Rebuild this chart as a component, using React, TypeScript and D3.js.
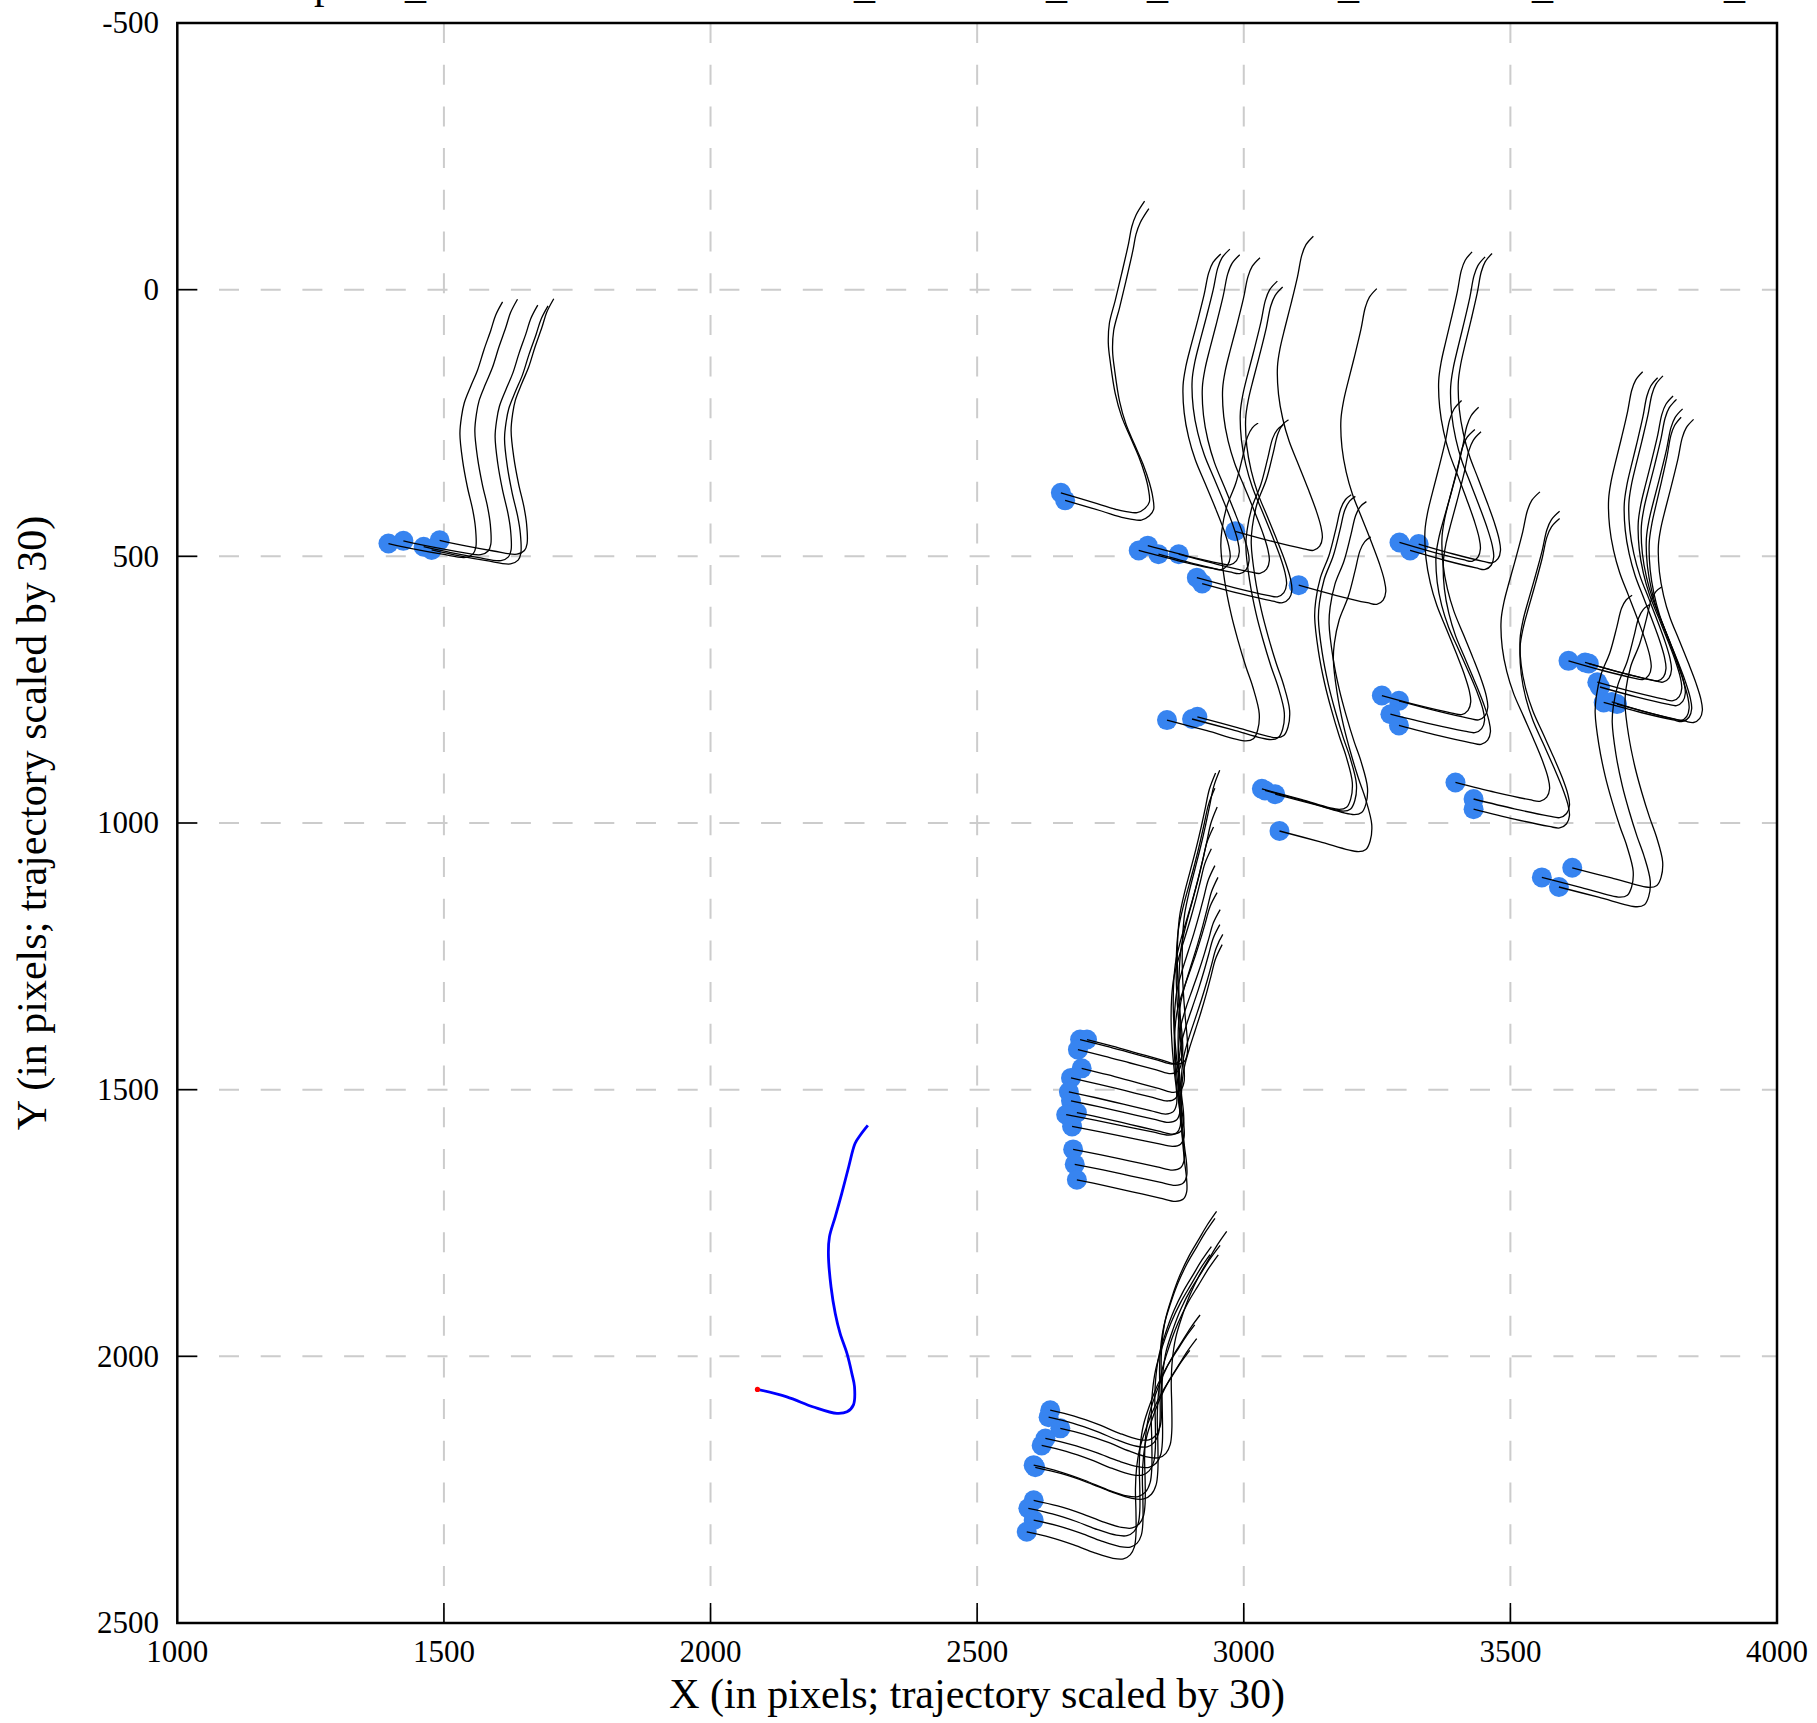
import React from 'react';
import * as d3 from 'd3';

const W = 1817;
const H = 1723;
const PLOT = { left: 177.3, right: 1777, top: 23, bottom: 1623 };

const xDomain: [number, number] = [1000, 4000];
const yDomain: [number, number] = [-500, 2500];
const xTickValues = [1000, 1500, 2000, 2500, 3000, 3500, 4000];
const yTickValues = [-500, 0, 500, 1000, 1500, 2000, 2500];
const xGridValues = [1500, 2000, 2500, 3000, 3500];
const yGridValues = [0, 500, 1000, 1500, 2000];

const xLabel = 'X (in pixels; trajectory scaled by 30)';
const yLabel = 'Y (in pixels; trajectory scaled by 30)';

// title line sits mostly above the page; only its descenders are visible
const titleParts: { text: string; endX: number }[] = [
  { text: 'Model: preds_', endX: 426 },
  { text: 'eth hotel scene1040_', endX: 875 },
  { text: 'obs08_', endX: 1067 },
  { text: 'len_', endX: 1168 },
  { text: 'model12_', endX: 1359 },
  { text: 'batch01_', endX: 1553 },
  { text: 'ttc30_', endX: 1745 },
];

// trajectory shapes: offsets (data units) from the observed position
const shapeBlue: [number, number][] = [
  [0, 0], [55, 14], [105, 33], [149, 45], [168, 42], [180, 29], [182, -5], [177, -30],
  [168, -67], [155, -105], [146, -142], [138, -192], [133, -255], [135, -286], [146, -324],
  [158, -367], [171, -417], [183, -461], [193, -477], [207, -495],
];
const shapeA: [number, number][] = [
  [0, 0], [51, 11], [101, 20], [145, 26], [159, 19], [164, 6], [163, -31], [158, -63],
  [148, -106], [139, -156], [134, -206], [137, -238], [142, -263], [154, -294], [167, -325],
  [179, -363], [192, -400], [201, -428], [214, -453],
];
const shapeB: [number, number][] = [
  [0, 0], [68, 20], [111, 33], [143, 37], [158, 29], [166, 17], [164, -8], [158, -33],
  [146, -68], [130, -105], [114, -143], [102, -186], [93, -243], [89, -280], [91, -318],
  [102, -361], [114, -411], [127, -468], [133, -499], [141, -521], [157, -547],
];
const shapeStd: [number, number][] = [
  [0, 0], [70, 19], [130, 33], [148, 36], [160, 28], [165, 12], [162, -10], [153, -40],
  [138, -80], [120, -125], [102, -170], [90, -212], [82, -258], [80, -310], [85, -345],
  [94, -383], [106, -430], [118, -480], [126, -520], [134, -540], [148, -556],
];
const shapeH: [number, number][] = [
  [0, 0], [75, 20], [148, 39], [162, 35], [170, 19], [173, -12], [161, -62], [148, -100],
  [133, -150], [120, -200], [108, -262], [101, -325], [103, -356], [112, -400], [129, -444],
  [142, -494], [151, -531], [160, -548], [171, -557],
];
const shapeN: [number, number][] = [
  [0, 0], [50, 12], [100, 25], [150, 38], [178, 45], [192, 40], [198, 25], [198, 0],
  [194, -40], [190, -90], [188, -140], [189, -190], [193, -230], [202, -270], [213, -310],
  [224, -350], [234, -390], [242, -425], [250, -460], [262, -490],
];
const shapeO: [number, number][] = [
  [0, 0], [45, 11], [90, 26], [130, 42], [165, 53], [185, 54], [198, 46], [206, 30],
  [209, 5], [209, -40], [208, -85], [210, -125], [216, -165], [228, -205], [243, -245],
  [260, -280], [278, -310], [295, -338], [312, -362],
];

const shapes: Record<string, [number, number][]> = {
  A: shapeA, B: shapeB, S: shapeStd, H: shapeH, N: shapeN, O: shapeO,
};

// observed positions: [x, y, shape, sx, sy]
type Obs = [number, number, string, number, number];
const groupA: Obs[] = [
  [1396, 476, 'A', 1, 1], [1424, 471, 'A', 1, 1], [1462, 482, 'A', 1, 1],
  [1477, 488, 'A', 1.02, 1.01], [1492, 470, 'A', 1, 1],
];
const groupB: Obs[] = [[2657, 381, 'B', 1, 1], [2665, 395, 'B', 1, 1]];
const groupC: Obs[] = [
  [2803, 489, 'S', 1.04, 1], [2820, 480, 'S', 1.04, 1], [2840, 496, 'S', 1.03, 1.01], [2878, 496, 'S', 1.03, 1],
];
const groupD: Obs[] = [[2984, 453, 'S', 0.99, 0.995]];
const groupE: Obs[] = [[2912, 540, 'S', 1.02, 1], [2922, 551, 'S', 1.02, 1]];
const groupF: Obs[] = [[3103, 554, 'S', 0.99, 1]];
const groupG: Obs[] = [[3292, 474, 'S', 0.92, 0.98], [3312, 489, 'S', 0.95, 0.99], [3328, 477, 'S', 0.93, 0.98]];
const groupH: Obs[] = [[2856, 807, 'H', 1, 1], [2903, 805, 'H', 1, 0.99], [2913, 801, 'H', 1, 1]];
const groupI: Obs[] = [
  [3034, 936, 'H', 0.98, 0.99], [3040, 939, 'H', 0.99, 0.99], [3059, 946, 'H', 1, 0.985], [3067, 1015, 'H', 1, 0.99],
];
const groupJ: Obs[] = [
  [3259, 761, 'S', 1.01, 0.995], [3291, 771, 'S', 1.01, 0.99], [3275, 796, 'S', 1.07, 0.96], [3291, 817, 'S', 1.04, 0.99],
];
const groupK: Obs[] = [[3397, 924, 'S', 1.07, 0.98], [3431, 955, 'S', 1.09, 0.97], [3431, 974, 'S', 1.09, 0.98]];
const groupL: Obs[] = [
  [3609, 696, 'S', 0.94, 0.975], [3640, 699, 'S', 0.92, 0.96], [3647, 701, 'S', 0.94, 0.97],
  [3663, 736, 'S', 0.96, 0.965], [3668, 745, 'S', 0.97, 0.97], [3675, 774, 'S', 1.0, 0.99],
  [3690, 773, 'S', 0.88, 0.96], [3700, 777, 'S', 0.97, 0.96],
];
const groupM: Obs[] = [[3559, 1102, 'H', 0.99, 0.95], [3591, 1120, 'H', 0.99, 0.95], [3616, 1084, 'H', 0.98, 0.945]];
const groupN: Obs[] = [
  [2693, 1406, 'N', 0.97, 1.02], [2706, 1406, 'N', 0.95, 1.03], [2689, 1425, 'N', 0.98, 1.0],
  [2696, 1460, 'N', 0.97, 1.0], [2676, 1478, 'N', 1.02, 0.96], [2672, 1504, 'N', 1.02, 0.93],
  [2676, 1521, 'N', 1.03, 0.9], [2687, 1543, 'N', 1.01, 0.9], [2667, 1547, 'N', 1.08, 0.85],
  [2678, 1569, 'N', 1.06, 0.83], [2680, 1612, 'N', 1.05, 0.86], [2683, 1640, 'N', 1.06, 0.88],
  [2687, 1669, 'N', 1.04, 0.9],
];
const groupO: Obs[] = [
  [2637, 2101, 'O', 1, 1.03], [2634, 2114, 'O', 1, 1.03], [2656, 2135, 'O', 1, 1.02],
  [2628, 2154, 'O', 1.05, 1.0], [2621, 2167, 'O', 1.02, 1.03], [2606, 2204, 'O', 1.06, 1.09],
  [2609, 2208, 'O', 1.1, 1.1], [2606, 2270, 'O', 1.0, 0.96], [2596, 2285, 'O', 1.0, 0.95],
  [2606, 2307, 'O', 0.98, 0.94], [2593, 2329, 'O', 0.98, 0.94],
];

const blueStart: [number, number] = [2088, 2062];

const allObs: Obs[] = [
  ...groupA, ...groupB, ...groupC, ...groupD, ...groupE, ...groupF, ...groupG,
  ...groupH, ...groupI, ...groupJ, ...groupK, ...groupL, ...groupM, ...groupN, ...groupO,
];

const SERIF = '"Liberation Serif", "Times New Roman", Times, serif';

export default function App() {
  const x = d3.scaleLinear().domain(xDomain).range([PLOT.left, PLOT.right]);
  const y = d3.scaleLinear().domain(yDomain).range([PLOT.top, PLOT.bottom]);
  const line = d3
    .line<[number, number]>()
    .x((d) => x(d[0]))
    .y((d) => y(d[1]))
    .curve(d3.curveCatmullRom.alpha(0.5));

  const pathFor = (o: Obs) => {
    const s = shapes[o[2]];
    const pts = s.map(([dx, dy]) => [o[0] + dx * o[3], o[1] + dy * o[4]] as [number, number]);
    return line(pts) || '';
  };
  const bluePts = shapeBlue.map(([dx, dy]) => [blueStart[0] + dx, blueStart[1] + dy] as [number, number]);

  return (
    <svg
      width={W}
      height={H}
      style={{ position: 'absolute', left: 0, top: 0, background: '#fff' }}
      fontFamily={SERIF}
    >
      <rect x={0} y={0} width={W} height={H} fill="#fff" />
      {/* title (cut off at top) */}
      {titleParts.map((t, i) => (
        <text key={'t' + i} x={t.endX} y={-2.5} fontSize={42} textAnchor="end" fill="#000">
          {t.text}
        </text>
      ))}
      {/* grid */}
      {xGridValues.map((v) => (
        <line key={'gx' + v} x1={x(v)} x2={x(v)} y1={PLOT.top} y2={PLOT.bottom}
          stroke="#cccccc" strokeWidth={2} strokeDasharray="20,21.7" />
      ))}
      {yGridValues.map((v) => (
        <line key={'gy' + v} x1={PLOT.left} x2={PLOT.right} y1={y(v)} y2={y(v)}
          stroke="#cccccc" strokeWidth={2} strokeDasharray="20,21.7" />
      ))}
      {/* observed positions */}
      {allObs.map((o, i) => (
        <circle key={'c' + i} cx={x(o[0])} cy={y(o[1])} r={10} fill="#3784f0" />
      ))}
      {/* predicted trajectories */}
      {allObs.map((o, i) => (
        <path key={'p' + i} d={pathFor(o)} fill="none" stroke="#000" strokeWidth={1.3} />
      ))}
      {/* reference trajectory */}
      <path d={line(bluePts) || ''} fill="none" stroke="#0000ff" strokeWidth={2.8} strokeLinejoin="round" />
      <circle cx={x(blueStart[0])} cy={y(blueStart[1])} r={2.6} fill="#ff0000" />
      {/* ticks */}
      {xGridValues.map((v) => (
        <line key={'tx' + v} x1={x(v)} x2={x(v)} y1={PLOT.bottom} y2={PLOT.bottom - 20} stroke="#000" strokeWidth={1.6} />
      ))}
      {yTickValues.map((v) => (
        <line key={'ty' + v} x1={PLOT.left} x2={PLOT.left + 20} y1={y(v)} y2={y(v)} stroke="#000" strokeWidth={1.6} />
      ))}
      {/* frame */}
      <rect x={PLOT.left} y={PLOT.top} width={PLOT.right - PLOT.left} height={PLOT.bottom - PLOT.top}
        fill="none" stroke="#000" strokeWidth={2.5} />
      {/* tick labels */}
      {xTickValues.map((v) => (
        <text key={'lx' + v} x={x(v)} y={1662} fontSize={31} textAnchor="middle" fill="#000">
          {v}
        </text>
      ))}
      {yTickValues.map((v) => (
        <text key={'ly' + v} x={159} y={y(v)} dy="0.33em" fontSize={31} textAnchor="end" fill="#000">
          {v}
        </text>
      ))}
      {/* axis labels */}
      <text x={(PLOT.left + PLOT.right) / 2} y={1708} fontSize={42} textAnchor="middle" fill="#000">
        {xLabel}
      </text>
      <text transform={`translate(46, ${(PLOT.top + PLOT.bottom) / 2}) rotate(-90)`} fontSize={42}
        textAnchor="middle" fill="#000">
        {yLabel}
      </text>
    </svg>
  );
}
